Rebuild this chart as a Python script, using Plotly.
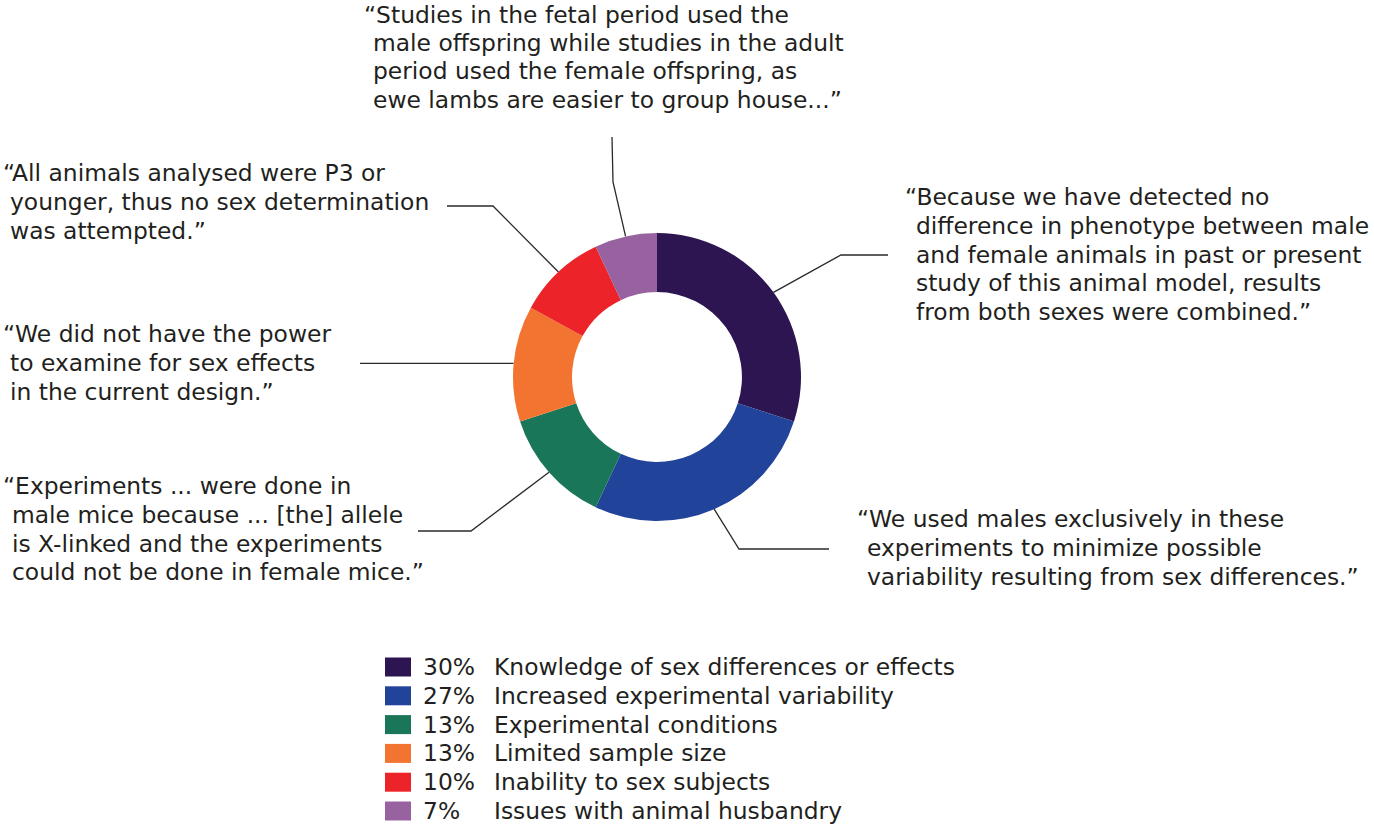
import math
import plotly.graph_objects as go

# ---------------- data ----------------
labels = ["Knowledge of sex differences or effects",
          "Increased experimental variability",
          "Experimental conditions",
          "Limited sample size",
          "Inability to sex subjects",
          "Issues with animal husbandry"]
values = [30, 27, 13, 13, 10, 7]
pct_labels = ["30%", "27%", "13%", "13%", "10%", "7%"]
colors = ["#2c1551", "#22439a", "#1a7659", "#f37430", "#ec2329", "#9862a1"]

quotes = [
    ["\u201cBecause we have detected no",
     "difference in phenotype between male",
     "and female animals in past or present",
     "study of this animal model, results",
     "from both sexes were combined.\u201d"],
    ["\u201cWe used males exclusively in these",
     "experiments to minimize possible",
     "variability resulting from sex differences.\u201d"],
    ["\u201cExperiments ... were done in",
     "male mice because ... [the] allele",
     "is X-linked and the experiments",
     "could not be done in female mice.\u201d"],
    ["\u201cWe did not have the power",
     "to examine for sex effects",
     "in the current design.\u201d"],
    ["\u201cAll animals analysed were P3 or",
     "younger, thus no sex determination",
     "was attempted.\u201d"],
    ["\u201cStudies in the fetal period used the",
     "male offspring while studies in the adult",
     "period used the female offspring, as",
     "ewe lambs are easier to group house...\u201d"],
]

# ---------------- layout constants (pixels) ----------------
W, H = 1374, 826
CX, CY, R = 657, 377, 144
HOLE = 0.59
FONT = "DejaVu Sans"
FS = 23.4
TXT = "#231f20"

quote_pos = [(904, 197), (856, 519), (2, 486), (2, 334), (2, 173), (363, 15)]
quote_gap = [28.8, 28.8, 28.8, 28.8, 28.8, 28.2]
quote_indent = [11, 10, 9, 7, 7, 9]
# elbow / end points of leader lines (None elbow = straight)
leader_elbow = [(841, 255), (739, 549), (471, 531), None, (493, 206), (613, 182)]
leader_end = [(888, 255), (829, 549), (418, 531), (360, None), (447, 206), (612, 137)]

LEG_SQ_X, LEG_SQ_W, LEG_SQ_H = 385, 26, 19
LEG_PCT_X, LEG_LAB_X = 422, 493
LEG_Y0, LEG_GAP = 667, 28.8

fig = go.Figure()

# hidden pixel-coordinate axes for decorations
fig.update_layout(
    xaxis=dict(range=[0, W], visible=False, domain=[0, 1], fixedrange=True),
    yaxis=dict(range=[H, 0], visible=False, domain=[0, 1], fixedrange=True),
)

fig.add_trace(go.Pie(
    labels=labels, values=values, sort=False, direction="clockwise", rotation=0,
    hole=HOLE, marker=dict(colors=colors, line=dict(width=0)),
    textinfo="none", hoverinfo="label+percent", showlegend=False,
    domain=dict(x=[(CX - R) / W, (CX + R) / W], y=[(H - CY - R) / H, (H - CY + R) / H]),
))

# leader lines starting at the mid-angle of each slice
total = sum(values)
cum = 0
for i, v in enumerate(values):
    mid = (cum + v / 2) / total * 2 * math.pi
    cum += v
    sx = CX + R * math.sin(mid)
    sy = CY - R * math.cos(mid)
    xs, ys = [sx], [sy]
    if leader_elbow[i] is not None:
        xs.append(leader_elbow[i][0]); ys.append(leader_elbow[i][1])
    ex, ey = leader_end[i]
    xs.append(ex); ys.append(ey if ey is not None else sy)
    fig.add_trace(go.Scatter(x=xs, y=ys, mode="lines", line=dict(color="#2a2a2a", width=1.3),
                             hoverinfo="skip", showlegend=False))

# quotes
for q, (qx, qy), ind, gap in zip(quotes, quote_pos, quote_indent, quote_gap):
    for j, line in enumerate(q):
        fig.add_annotation(x=qx + (0 if j == 0 else ind), y=qy + j * gap, xref="x", yref="y",
                           text=line, showarrow=False, xanchor="left", yanchor="middle",
                           borderpad=0,
                           font=dict(family=FONT, size=FS, color=TXT))

# legend
for i, (lab, pct, col) in enumerate(zip(labels, pct_labels, colors)):
    yy = LEG_Y0 + i * LEG_GAP
    fig.add_shape(type="rect", xref="x", yref="y", x0=LEG_SQ_X, x1=LEG_SQ_X + LEG_SQ_W,
                  y0=yy - LEG_SQ_H / 2, y1=yy + LEG_SQ_H / 2, fillcolor=col, line=dict(width=0))
    fig.add_annotation(x=LEG_PCT_X, y=yy, xref="x", yref="y", text=pct, showarrow=False,
                       xanchor="left", yanchor="middle", borderpad=0,
                       font=dict(family=FONT, size=FS, color=TXT))
    fig.add_annotation(x=LEG_LAB_X, y=yy, xref="x", yref="y", text=lab, showarrow=False,
                       xanchor="left", yanchor="middle", borderpad=0,
                       font=dict(family=FONT, size=FS, color=TXT))

fig.update_layout(width=W, height=H, margin=dict(l=0, r=0, t=0, b=0),
                  paper_bgcolor="white", plot_bgcolor="white", showlegend=False)

fig.write_html("out.html", config={"displayModeBar": False},
               post_script="document.body.style.margin='0';")
